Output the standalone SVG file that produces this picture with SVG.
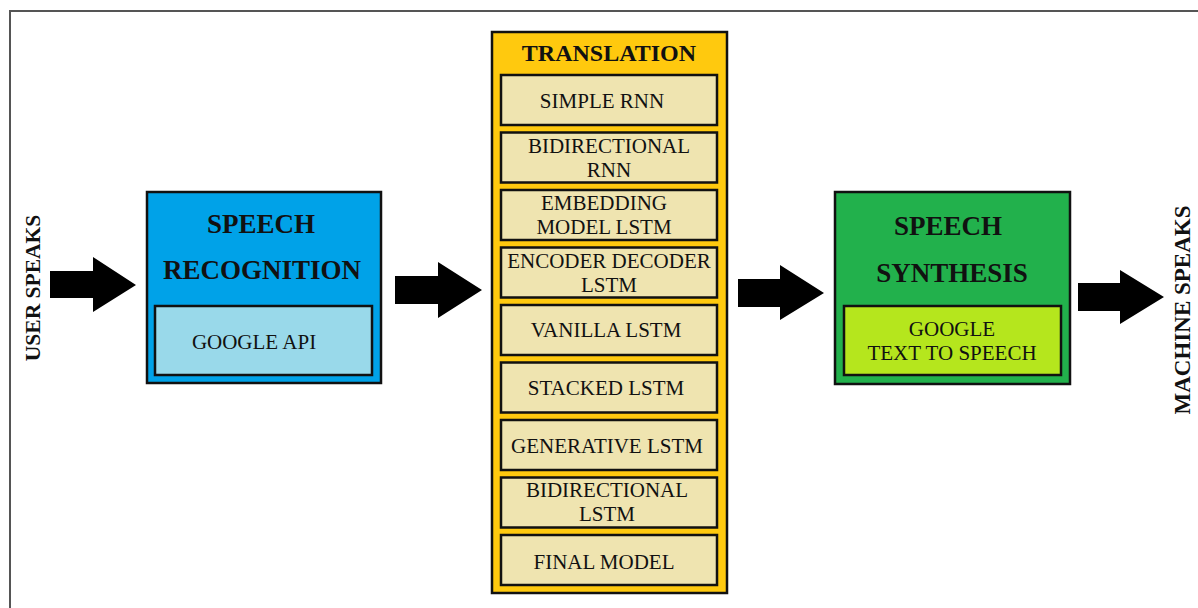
<svg xmlns="http://www.w3.org/2000/svg" width="1198" height="608" viewBox="0 0 1198 608">
<style>
.t{font-family:"Liberation Serif","Times New Roman",serif;fill:#111;text-anchor:middle}
.b{font-weight:bold;font-size:27px}
.r{font-size:21px}
.sub{fill:#EFE4B0;stroke:#111;stroke-width:2.5}
.box{stroke:#111;stroke-width:2.5}
.arr{fill:#000}
</style>
<rect width="1198" height="608" fill="#fff"/>
<path d="M10 620 V11 H1210" fill="none" stroke="#555" stroke-width="2"/>
<g id="connectors">
<polygon class="arr" points="50,271 93,271 93,257 136,285 93,312 93,298 50,298"/>
<polygon class="arr" points="395,276 438,276 438,262 482,290 438,318 438,304 395,304"/>
<polygon class="arr" points="738,279 780,279 780,265 824,293 780,320 780,307 738,307"/>
<polygon class="arr" points="1078,283 1120,283 1120,270 1164,297 1120,324 1120,311 1078,311"/>
</g>
<g id="user-speaks">
<text class="t" font-weight="bold" font-size="21.5" transform="translate(40,288) rotate(-90)">USER SPEAKS</text>
</g>
<g id="speech-recognition">
<rect class="box" x="147" y="192" width="234" height="191" fill="#00A2E8"/>
<text class="t b" x="261" y="233">SPEECH</text>
<text class="t b" x="262" y="279">RECOGNITION</text>
<g id="google-api">
<rect class="box" x="155" y="306" width="217" height="69" fill="#99D9EA"/>
<text class="t r" x="254" y="349">GOOGLE API</text>
</g>
</g>
<g id="translation">
<rect class="box" x="492" y="32" width="235" height="561" fill="#FFC90E"/>
<text class="t" font-weight="bold" font-size="24" x="609" y="61">TRANSLATION</text>
<g id="simple-rnn"><rect class="sub" x="501" y="75" width="216" height="50"/><text class="t r" x="602" y="108">SIMPLE RNN</text></g>
<g id="bidirectional-rnn"><rect class="sub" x="501" y="132.5" width="216" height="50"/><text class="t r" x="609" y="153">BIDIRECTIONAL</text><text class="t r" x="609" y="177">RNN</text></g>
<g id="embedding-lstm"><rect class="sub" x="501" y="190" width="216" height="50"/><text class="t r" x="604" y="210">EMBEDDING</text><text class="t r" x="604" y="234">MODEL LSTM</text></g>
<g id="encoder-decoder-lstm"><rect class="sub" x="501" y="247.5" width="216" height="50"/><text class="t r" x="609" y="268">ENCODER DECODER</text><text class="t r" x="609" y="292">LSTM</text></g>
<g id="vanilla-lstm"><rect class="sub" x="501" y="305" width="216" height="50"/><text class="t r" x="606" y="337">VANILLA LSTM</text></g>
<g id="stacked-lstm"><rect class="sub" x="501" y="362.5" width="216" height="50"/><text class="t r" x="606" y="395">STACKED LSTM</text></g>
<g id="generative-lstm"><rect class="sub" x="501" y="420" width="216" height="50"/><text class="t r" x="607" y="453">GENERATIVE LSTM</text></g>
<g id="bidirectional-lstm"><rect class="sub" x="501" y="477.5" width="216" height="50"/><text class="t r" x="607" y="497">BIDIRECTIONAL</text><text class="t r" x="607" y="521">LSTM</text></g>
<g id="final-model"><rect class="sub" x="501" y="535" width="216" height="50"/><text class="t r" x="604" y="569">FINAL MODEL</text></g>
</g>
<g id="speech-synthesis">
<rect class="box" x="835" y="192" width="235" height="192" fill="#22B14C"/>
<text class="t b" x="948" y="235">SPEECH</text>
<text class="t b" x="952" y="282">SYNTHESIS</text>
<g id="google-tts">
<rect class="box" x="844" y="306" width="217" height="69" fill="#B5E61D"/>
<text class="t r" x="952" y="336">GOOGLE</text>
<text class="t r" x="952" y="360">TEXT TO SPEECH</text>
</g>
</g>
<g id="machine-speaks">
<text class="t" font-weight="bold" font-size="23" transform="translate(1190,310) rotate(-90)">MACHINE SPEAKS</text>
</g>
</svg>
